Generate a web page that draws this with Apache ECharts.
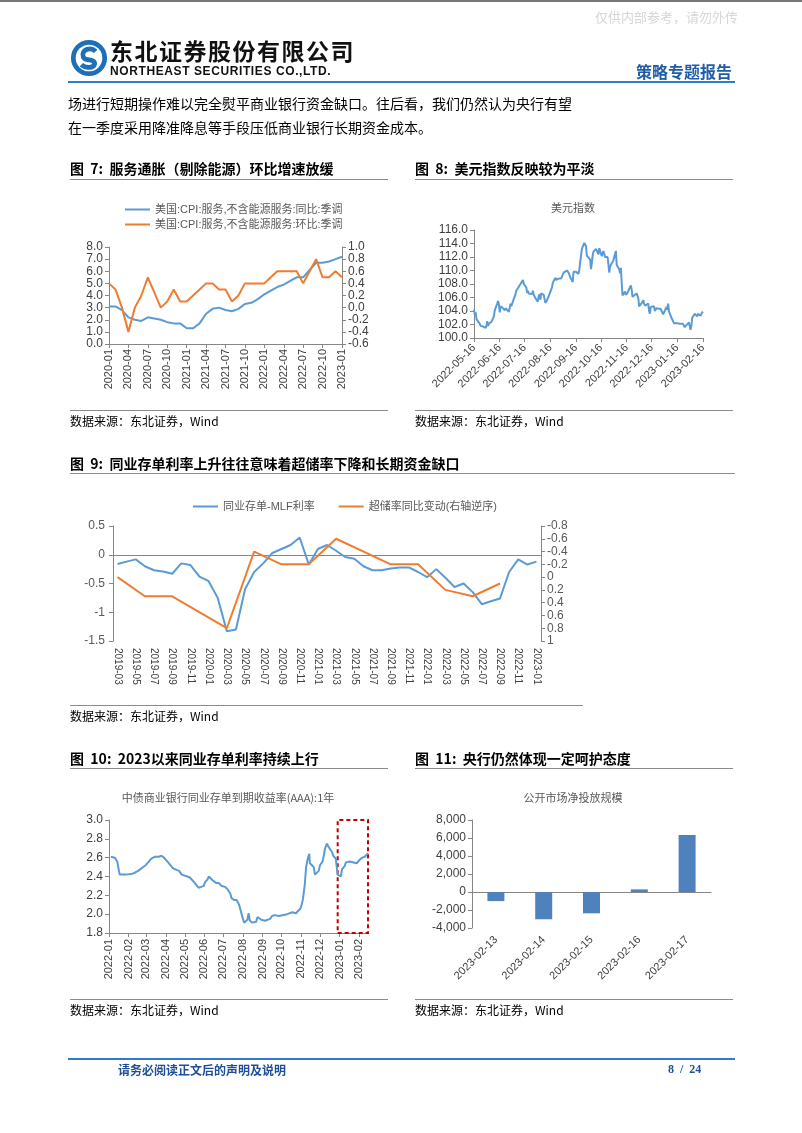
<!DOCTYPE html>
<html>
<head>
<meta charset="utf-8">
<script src="https://cdn.jsdelivr.net/npm/echarts@6/dist/echarts.min.js"></script>
<style>
body { margin: 0; background: #fff; }
#page { position: relative; width: 802px; height: 1133px; overflow: hidden; font-family: 'Noto Sans CJK SC', sans-serif; }
#main { position: absolute; left: 0; top: 0; width: 802px; height: 1133px; }
.t { position: absolute; white-space: nowrap; z-index: 2; }
.fig { font-size: 14px; line-height: 18px; font-weight: bold; color: #000; }
.src { font-size: 12px; line-height: 16px; color: #000; }
.cap { font-size: 11px; line-height: 14px; color: #595959; text-align: center; width: 300px; }
.rule { position: absolute; height: 0; border-top: 1px solid #8c8c8c; z-index: 2; }
</style>
</head>
<body>
<div id="page">
  <div id="main"></div>

  <div class="rule" style="left:0;top:0;width:802px;border-top:2px solid #777;"></div>
  <div class="t" style="left:595px;top:9px;font-size:13px;line-height:16px;color:#d6d6d6;">仅供内部参考，请勿外传</div>

  <svg class="t" style="left:70px;top:39px" width="38" height="38" viewBox="0 0 40 40">
    <circle cx="20" cy="20" r="19" fill="#1d6fb8"/>
    <circle cx="20" cy="20" r="14" fill="#fff"/>
    <path d="M27 13 C22 8, 11 11, 14 19 C16 24, 26 20, 26 26 C25 31, 16 31, 12 27" stroke="#1d6fb8" stroke-width="5" fill="none"/>
  </svg>
  <div class="t" style="left:110px;top:37px;font-size:23px;line-height:26px;font-weight:bold;letter-spacing:1.5px;color:#111;">东北证券股份有限公司</div>
  <div class="t" style="left:110px;top:65px;font-size:12px;line-height:13px;font-weight:bold;letter-spacing:0.6px;font-family:'Liberation Sans',Arial,sans-serif;color:#111;">NORTHEAST SECURITIES CO.,LTD.</div>
  <div class="t" style="left:636px;top:61px;font-size:16px;line-height:20px;font-weight:bold;color:#1f5da8;">策略专题报告</div>
  <div class="rule" style="left:68px;top:81px;width:667px;border-top:2px solid #2e7bcf;"></div>

  <div class="t" style="left:68px;top:94px;font-size:14px;line-height:18px;">场进行短期操作难以完全熨平商业银行资金缺口。往后看，我们仍然认为央行有望</div>
  <div class="t" style="left:68px;top:118px;font-size:14px;line-height:18px;">在一季度采用降准降息等手段压低商业银行长期资金成本。</div>

  <div class="t fig" style="left:70px;top:159px;">图&nbsp;&nbsp;7:&nbsp;&nbsp;服务通胀（剔除能源）环比增速放缓</div>
  <div class="rule" style="left:70px;top:179px;width:318px;"></div>
  <div class="t fig" style="left:415px;top:159px;">图&nbsp;&nbsp;8:&nbsp;&nbsp;美元指数反映较为平淡</div>
  <div class="rule" style="left:415px;top:179px;width:318px;"></div>
  <div class="t cap" style="left:423px;top:200px;">美元指数</div>
  <div class="rule" style="left:70px;top:410px;width:318px;"></div>
  <div class="t src" style="left:70px;top:413px;">数据来源：东北证券，Wind</div>
  <div class="rule" style="left:415px;top:410px;width:318px;"></div>
  <div class="t src" style="left:415px;top:413px;">数据来源：东北证券，Wind</div>

  <div class="t fig" style="left:70px;top:454px;">图&nbsp;&nbsp;9:&nbsp;&nbsp;同业存单利率上升往往意味着超储率下降和长期资金缺口</div>
  <div class="rule" style="left:70px;top:473px;width:665px;"></div>
  <div class="rule" style="left:70px;top:705px;width:513px;"></div>
  <div class="t src" style="left:70px;top:708px;">数据来源：东北证券，Wind</div>

  <div class="t fig" style="left:70px;top:749px;">图&nbsp;&nbsp;10:&nbsp;&nbsp;2023以来同业存单利率持续上行</div>
  <div class="rule" style="left:70px;top:768px;width:318px;"></div>
  <div class="t cap" style="left:78px;top:790px;">中债商业银行同业存单到期收益率(AAA):1年</div>
  <div class="t fig" style="left:415px;top:749px;">图&nbsp;&nbsp;11:&nbsp;&nbsp;央行仍然体现一定呵护态度</div>
  <div class="rule" style="left:415px;top:768px;width:318px;"></div>
  <div class="t cap" style="left:423px;top:790px;">公开市场净投放规模</div>
  <div class="rule" style="left:70px;top:999px;width:318px;"></div>
  <div class="t src" style="left:70px;top:1002px;">数据来源：东北证券，Wind</div>
  <div class="rule" style="left:415px;top:999px;width:318px;"></div>
  <div class="t src" style="left:415px;top:1002px;">数据来源：东北证券，Wind</div>

  <div class="rule" style="left:68px;top:1058px;width:667px;border-top:2px solid #2e7bcf;"></div>
  <div class="t" style="left:118px;top:1062px;font-size:12px;line-height:15px;font-weight:bold;color:#1f4e9a;">请务必阅读正文后的声明及说明</div>
  <div class="t" style="left:668px;top:1062px;font-size:12px;line-height:15px;font-weight:bold;color:#1f4e9a;font-family:'Liberation Serif',serif;">8&nbsp;&nbsp;/&nbsp;&nbsp;24</div>
</div>

<script>
// ---- 图7 美国核心服务CPI
const cpiMonths = ['2020-01','2020-02','2020-03','2020-04','2020-05','2020-06','2020-07','2020-08','2020-09','2020-10','2020-11','2020-12',
  '2021-01','2021-02','2021-03','2021-04','2021-05','2021-06','2021-07','2021-08','2021-09','2021-10','2021-11','2021-12',
  '2022-01','2022-02','2022-03','2022-04','2022-05','2022-06','2022-07','2022-08','2022-09','2022-10','2022-11','2022-12','2023-01'];
const cpiYoY = [3.1,3.1,2.8,2.2,2.0,1.9,2.2,2.1,2.0,1.8,1.7,1.7,1.3,1.3,1.7,2.5,2.9,3.0,2.8,2.7,2.9,3.3,3.4,3.7,
  4.1,4.4,4.7,4.9,5.2,5.5,5.5,6.1,6.7,6.7,6.8,7.0,7.2];
const cpiMoM = [0.4,0.3,0.0,-0.4,0.0,0.2,0.5,0.25,0.0,0.1,0.3,0.1,0.1,0.2,0.3,0.4,0.4,0.3,0.3,0.1,0.2,0.4,0.4,0.4,
  0.4,0.5,0.6,0.6,0.6,0.6,0.4,0.6,0.8,0.5,0.5,0.6,0.5];

// ---- 图8 美元指数
const dxyDates = ['2022-05-16','2022-05-17','2022-05-18','2022-05-19','2022-05-20','2022-05-23','2022-05-24','2022-05-25','2022-05-26','2022-05-27',
  '2022-05-30','2022-05-31','2022-06-01','2022-06-02','2022-06-03','2022-06-06','2022-06-07','2022-06-08','2022-06-09','2022-06-10',
  '2022-06-13','2022-06-14','2022-06-15','2022-06-16','2022-06-17','2022-06-20','2022-06-21','2022-06-22','2022-06-23','2022-06-24',
  '2022-06-27','2022-06-28','2022-06-29','2022-06-30','2022-07-01','2022-07-05','2022-07-06','2022-07-07','2022-07-08','2022-07-11',
  '2022-07-12','2022-07-13','2022-07-14','2022-07-15','2022-07-18','2022-07-19','2022-07-20','2022-07-21','2022-07-22','2022-07-25',
  '2022-07-26','2022-07-27','2022-07-28','2022-07-29','2022-08-01','2022-08-02','2022-08-03','2022-08-04','2022-08-05','2022-08-08',
  '2022-08-09','2022-08-10','2022-08-11','2022-08-12','2022-08-15','2022-08-16','2022-08-17','2022-08-18','2022-08-19','2022-08-22',
  '2022-08-23','2022-08-24','2022-08-25','2022-08-26','2022-08-29','2022-08-30','2022-08-31','2022-09-01','2022-09-02','2022-09-05',
  '2022-09-06','2022-09-07','2022-09-08','2022-09-09','2022-09-12','2022-09-13','2022-09-14','2022-09-15','2022-09-16','2022-09-19',
  '2022-09-20','2022-09-21','2022-09-22','2022-09-23','2022-09-26','2022-09-27','2022-09-28','2022-09-29','2022-09-30','2022-10-03',
  '2022-10-04','2022-10-05','2022-10-06','2022-10-07','2022-10-10','2022-10-11','2022-10-12','2022-10-13','2022-10-14','2022-10-17',
  '2022-10-18','2022-10-19','2022-10-20','2022-10-21','2022-10-24','2022-10-25','2022-10-26','2022-10-27','2022-10-28','2022-10-31',
  '2022-11-01','2022-11-02','2022-11-03','2022-11-04','2022-11-07','2022-11-08','2022-11-09','2022-11-10','2022-11-11','2022-11-14',
  '2022-11-15','2022-11-16','2022-11-17','2022-11-18','2022-11-21','2022-11-22','2022-11-23','2022-11-24','2022-11-25','2022-11-28',
  '2022-11-29','2022-11-30','2022-12-01','2022-12-02','2022-12-05','2022-12-06','2022-12-07','2022-12-08','2022-12-09','2022-12-12',
  '2022-12-13','2022-12-14','2022-12-15','2022-12-16','2022-12-19','2022-12-20','2022-12-21','2022-12-22','2022-12-23','2022-12-27',
  '2022-12-28','2022-12-29','2022-12-30','2023-01-03','2023-01-04','2023-01-05','2023-01-06','2023-01-09','2023-01-10','2023-01-11',
  '2023-01-12','2023-01-13','2023-01-16','2023-01-17','2023-01-18','2023-01-19','2023-01-20','2023-01-23','2023-01-24','2023-01-25',
  '2023-01-26','2023-01-27','2023-01-30','2023-01-31','2023-02-01','2023-02-02','2023-02-03','2023-02-06','2023-02-07','2023-02-08',
  '2023-02-09','2023-02-10','2023-02-13','2023-02-14','2023-02-15','2023-02-16'];
const dxyValues = [104.2,103.4,103.8,102.8,103.0,102.1,101.8,102.0,101.8,101.7,
  101.5,101.8,102.5,101.8,102.1,102.4,102.3,102.5,103.2,104.1,
  105.1,105.5,105.0,103.8,104.7,104.4,104.4,104.1,104.4,104.2,
  103.9,104.4,105.1,104.7,105.1,106.5,107.0,107.0,106.9,108.0,
  108.1,108.0,108.6,108.0,107.5,106.7,107.0,106.6,106.6,106.5,
  107.0,106.4,106.3,105.9,105.4,106.2,106.5,105.7,106.6,106.4,
  106.4,105.2,105.1,105.6,106.5,106.5,106.7,107.5,108.2,108.9,
  108.6,108.6,108.6,108.8,108.8,108.8,108.7,109.7,109.5,110.0,
  110.2,109.7,109.6,109.0,108.3,109.8,109.6,109.7,109.8,109.5,
  110.2,111.2,111.3,113.2,114.1,114.1,113.6,112.2,112.1,111.6,
  110.2,111.1,112.2,112.8,113.2,113.2,113.3,112.4,113.3,112.1,
  112.0,112.9,112.9,112.0,112.0,110.9,109.7,110.6,110.7,111.5,
  111.4,111.4,112.9,110.8,110.2,109.6,110.4,108.2,106.3,106.9,
  106.4,106.3,106.7,106.9,107.8,107.2,106.1,106.1,106.0,106.6,
  106.8,105.9,104.7,104.5,105.3,105.6,105.1,104.8,104.8,105.1,
  104.0,103.6,104.6,104.7,104.7,104.0,104.2,104.4,104.3,104.3,
  104.5,104.2,103.5,104.6,104.2,105.1,103.9,103.0,103.2,103.2,
  102.2,102.2,102.2,102.4,102.4,102.1,102.0,102.1,101.9,101.6,
  101.8,101.9,102.3,102.1,101.2,101.8,103.0,103.6,103.4,103.4,
  103.2,103.6,103.3,103.2,103.8,103.9];
const dxyTicks = ['2022-05-16','2022-06-16','2022-07-16','2022-08-16','2022-09-16','2022-10-16',
  '2022-11-16','2022-12-16','2023-01-16','2023-02-16'];

// ---- 图9 同业存单-MLF 与 超储率
const mlfMonths = ['2019-03','2019-04','2019-05','2019-06','2019-07','2019-08','2019-09','2019-10','2019-11','2019-12',
  '2020-01','2020-02','2020-03','2020-04','2020-05','2020-06','2020-07','2020-08','2020-09','2020-10','2020-11','2020-12',
  '2021-01','2021-02','2021-03','2021-04','2021-05','2021-06','2021-07','2021-08','2021-09','2021-10','2021-11','2021-12',
  '2022-01','2022-02','2022-03','2022-04','2022-05','2022-06','2022-07','2022-08','2022-09','2022-10','2022-11','2022-12','2023-01'];
const mlfLabels = ['2019-03','','2019-05','','2019-07','','2019-09','','2019-11','','2020-01','','2020-03','','2020-05','',
  '2020-07','','2020-09','','2020-11','','2021-01','','2021-03','','2021-05','','2021-07','','2021-09','','2021-11','',
  '2022-01','','2022-03','','2022-05','','2022-07','','2022-09','','2022-11','','2023-01'];
const mlfSpread = [-0.16,-0.12,-0.08,-0.2,-0.27,-0.29,-0.33,-0.15,-0.18,-0.38,
  -0.46,-0.75,-1.33,-1.30,-0.6,-0.3,-0.15,0.03,0.1,0.17,0.3,-0.17,
  0.1,0.17,0.07,-0.04,-0.07,-0.2,-0.27,-0.27,-0.24,-0.22,-0.22,-0.3,
  -0.39,-0.25,-0.4,-0.56,-0.5,-0.65,-0.86,-0.81,-0.76,-0.3,-0.08,-0.17,-0.12];
const excessReserve = [0,null,null,0.3,null,null,0.3,null,null,null,
  null,null,0.8,null,null,-0.4,null,null,-0.2,null,null,-0.2,
  null,null,-0.6,null,null,null,null,null,-0.2,null,null,-0.2,
  null,null,0.2,null,null,0.3,null,null,0.1,null,null,null,null];

// ---- 图10 同业存单到期收益率
const ncdDates = ['2022-01-04','2022-01-06','2022-01-10','2022-01-12','2022-01-14','2022-01-17','2022-01-18','2022-01-20','2022-01-24','2022-01-26',
  '2022-01-28','2022-02-07','2022-02-09','2022-02-11','2022-02-14','2022-02-16','2022-02-18','2022-02-22','2022-02-24','2022-02-28',
  '2022-03-02','2022-03-04','2022-03-07','2022-03-09','2022-03-11','2022-03-15','2022-03-17','2022-03-21','2022-03-23','2022-03-25',
  '2022-03-29','2022-03-31','2022-04-01','2022-04-06','2022-04-08','2022-04-12','2022-04-14','2022-04-18','2022-04-20','2022-04-22',
  '2022-04-26','2022-04-28','2022-05-05','2022-05-09','2022-05-11','2022-05-13','2022-05-17','2022-05-19','2022-05-23','2022-05-25',
  '2022-05-27','2022-05-31','2022-06-02','2022-06-06','2022-06-08','2022-06-10','2022-06-14','2022-06-16','2022-06-20','2022-06-22',
  '2022-06-24','2022-06-28','2022-06-30','2022-07-04','2022-07-06','2022-07-08','2022-07-12','2022-07-14','2022-07-18','2022-07-20',
  '2022-07-22','2022-07-26','2022-07-28','2022-08-01','2022-08-03','2022-08-05','2022-08-08','2022-08-10','2022-08-12','2022-08-16',
  '2022-08-18','2022-08-22','2022-08-24','2022-08-26','2022-08-30','2022-09-01','2022-09-05','2022-09-08','2022-09-13','2022-09-16',
  '2022-09-20','2022-09-23','2022-09-27','2022-09-30','2022-10-10','2022-10-13','2022-10-18','2022-10-20','2022-10-24','2022-10-27',
  '2022-10-31','2022-11-02','2022-11-04','2022-11-07','2022-11-09','2022-11-11','2022-11-14','2022-11-15','2022-11-17','2022-11-21',
  '2022-11-23','2022-11-25','2022-11-29','2022-12-01','2022-12-05','2022-12-07','2022-12-09','2022-12-12','2022-12-14','2022-12-16',
  '2022-12-20','2022-12-22','2022-12-26','2022-12-28','2022-12-29','2023-01-03','2023-01-05','2023-01-09','2023-01-11','2023-01-13',
  '2023-01-17','2023-01-19','2023-01-28','2023-01-31','2023-02-02','2023-02-06','2023-02-08','2023-02-10','2023-02-14','2023-02-15'];
const ncdValues = [2.61,2.60,2.60,2.58,2.56,2.45,2.42,2.43,2.42,2.41,
  2.42,2.43,2.44,2.44,2.45,2.46,2.47,2.49,2.50,2.52,
  2.53,2.55,2.57,2.59,2.60,2.61,2.59,2.61,2.60,2.62,
  2.60,2.61,2.58,2.54,2.52,2.49,2.48,2.47,2.48,2.46,
  2.42,2.41,2.40,2.39,2.38,2.36,2.33,2.32,2.28,2.27,
  2.29,2.30,2.34,2.37,2.40,2.39,2.36,2.37,2.33,2.32,
  2.33,2.30,2.31,2.29,2.29,2.26,2.22,2.17,2.15,2.14,
  2.15,2.10,2.05,1.95,1.91,1.90,1.94,2.01,1.93,1.91,
  1.90,1.92,1.97,1.96,1.94,1.94,1.93,1.95,1.95,1.98,
  1.99,2.01,1.98,1.98,2.00,2.00,2.02,2.04,2.01,2.03,
  2.06,2.10,2.16,2.32,2.50,2.57,2.64,2.54,2.52,2.50,
  2.42,2.44,2.46,2.52,2.56,2.62,2.70,2.75,2.72,2.71,
  2.66,2.62,2.59,2.57,2.42,2.40,2.48,2.51,2.55,2.57,
  2.56,2.58,2.54,2.56,2.58,2.60,2.62,2.61,2.64,2.65];
const ncdTicks = ['2022-01','2022-02','2022-03','2022-04','2022-05','2022-06','2022-07','2022-08','2022-09','2022-10',
  '2022-11','2022-12','2023-01','2023-02'];

// ---- 图11 公开市场净投放
const omoDates = ['2023-02-13','2023-02-14','2023-02-15','2023-02-16','2023-02-17'];
const omoValues = [-1010,-3030,-2370,290,6320];

function ts(s) {
  const p = s.split('-').map(Number);
  return Date.UTC(p[0], p[1] - 1, p[2] || 1);
}
function pad(n) { return n < 10 ? '0' + n : '' + n; }
function fmtDay(v) { const d = new Date(v); return d.getUTCFullYear() + '-' + pad(d.getUTCMonth() + 1) + '-' + pad(d.getUTCDate()); }
function fmtMonth(v) { const d = new Date(v); return d.getUTCFullYear() + '-' + pad(d.getUTCMonth() + 1); }

const chart = echarts.init(document.getElementById('main'), null, { renderer: 'canvas' });

const font = "'Liberation Sans', Arial, 'Noto Sans CJK SC', sans-serif";
const grey = '#868686';
const lineStyle = { lineStyle: { color: grey, width: 1 } };
const tickStyle = { length: 4, lineStyle: { color: grey } };
function label(extra) {
  return Object.assign({ color: '#404040', fontSize: 12, fontFamily: font }, extra || {});
}
const blue = '#5B9BD5';
const orange = '#ED7D31';

const option = {
  animation: false,
  textStyle: { fontFamily: font },
  grid: [
    { left: 109, top: 247, width: 233, height: 97 },
    { left: 474, top: 230, width: 229, height: 108 },
    { left: 113, top: 526, width: 428, height: 115 },
    { left: 109, top: 820, width: 259, height: 113 },
    { left: 472, top: 820, width: 239, height: 108 }
  ],
  legend: [
    {
      data: ['美国:CPI:服务,不含能源服务:同比:季调', '美国:CPI:服务,不含能源服务:环比:季调'],
      orient: 'vertical', left: 120, top: 199, itemGap: 4,
      icon: 'rect', itemWidth: 25, itemHeight: 2,
      textStyle: { fontSize: 11, color: '#595959' }
    },
    {
      data: ['同业存单-MLF利率', '超储率同比变动(右轴逆序)'],
      orient: 'horizontal', left: 188, top: 496, itemGap: 24,
      icon: 'rect', itemWidth: 25, itemHeight: 2,
      textStyle: { fontSize: 11, color: '#595959' }
    }
  ],
  xAxis: [
    {
      gridIndex: 0, type: 'category', data: cpiMonths, boundaryGap: false,
      axisLine: Object.assign({ onZero: false }, lineStyle),
      axisTick: Object.assign({ interval: 2 }, tickStyle),
      axisLabel: label({ rotate: 90, interval: 2, margin: 5, fontSize: 11 })
    },
    {
      gridIndex: 1, type: 'value', min: ts('2022-05-16'), max: ts('2023-02-16'),
      axisLine: Object.assign({ onZero: false }, lineStyle),
      axisTick: Object.assign({ customValues: dxyTicks.map(ts) }, tickStyle),
      axisLabel: label({ customValues: dxyTicks.map(ts), formatter: fmtDay, rotate: 45, margin: 8, fontSize: 11 }),
      splitLine: { show: false }
    },
    {
      gridIndex: 2, type: 'category', data: mlfLabels, position: 'bottom', boundaryGap: true,
      axisLine: { show: false, onZero: false }, axisTick: { show: false },
      axisLabel: label({ rotate: -90, interval: 0, margin: 7, fontSize: 10, color: '#404040' })
    },
    {
      gridIndex: 2, type: 'category', data: mlfMonths, position: 'top', boundaryGap: true,
      axisLine: Object.assign({ onZero: true }, lineStyle),
      axisTick: Object.assign({ interval: 1 }, tickStyle),
      axisLabel: { show: false }
    },
    {
      gridIndex: 3, type: 'value', min: ts('2022-01-01'), max: ts('2023-02-15'),
      axisLine: Object.assign({ onZero: false }, lineStyle),
      axisTick: Object.assign({ customValues: ncdTicks.map(ts) }, tickStyle),
      axisLabel: label({ customValues: ncdTicks.map(ts), formatter: fmtMonth, rotate: 90, margin: 6, fontSize: 11 }),
      splitLine: { show: false }
    },
    {
      gridIndex: 4, type: 'category', data: omoDates, position: 'bottom',
      axisLine: Object.assign({ onZero: true }, lineStyle),
      axisTick: { length: 5, lineStyle: { color: grey } },
      axisLabel: { show: false }
    },
    {
      gridIndex: 4, type: 'category', data: omoDates, position: 'bottom',
      axisLine: { show: false, onZero: false }, axisTick: { show: false },
      axisLabel: label({ rotate: 45, interval: 0, margin: 10, fontSize: 11 })
    }
  ],
  yAxis: [
    {
      gridIndex: 0, type: 'value', min: 0, max: 8, interval: 1,
      axisLine: Object.assign({ show: true }, lineStyle), axisTick: Object.assign({ show: true }, tickStyle),
      axisLabel: label({ formatter: v => v.toFixed(1), margin: 6 }), splitLine: { show: false }
    },
    {
      gridIndex: 0, type: 'value', position: 'right', min: -0.6, max: 1.0, interval: 0.2,
      axisLine: Object.assign({ show: true }, lineStyle), axisTick: Object.assign({ show: true }, tickStyle),
      axisLabel: label({ formatter: v => v.toFixed(1), margin: 6 }), splitLine: { show: false }
    },
    {
      gridIndex: 1, type: 'value', min: 100, max: 116, interval: 2,
      axisLine: Object.assign({ show: true }, lineStyle), axisTick: Object.assign({ show: true }, tickStyle),
      axisLabel: label({ formatter: v => v.toFixed(1), margin: 6 }), splitLine: { show: false }
    },
    {
      gridIndex: 2, type: 'value', min: -1.5, max: 0.5, interval: 0.5,
      axisLine: Object.assign({ show: true }, lineStyle), axisTick: Object.assign({ show: true }, tickStyle),
      axisLabel: label({ color: '#595959', margin: 8 }), splitLine: { show: false }
    },
    {
      gridIndex: 2, type: 'value', position: 'right', inverse: true, min: -0.8, max: 1, interval: 0.2,
      axisLine: Object.assign({ show: true }, lineStyle), axisTick: Object.assign({ show: true }, tickStyle),
      axisLabel: label({ color: '#595959', formatter: v => String(+v.toFixed(1)), margin: 6 }), splitLine: { show: false }
    },
    {
      gridIndex: 3, type: 'value', min: 1.8, max: 3.0, interval: 0.2,
      axisLine: Object.assign({ show: true }, lineStyle), axisTick: Object.assign({ show: true }, tickStyle),
      axisLabel: label({ formatter: v => v.toFixed(1), margin: 6 }), splitLine: { show: false }
    },
    {
      gridIndex: 4, type: 'value', min: -4000, max: 8000, interval: 2000,
      axisLine: Object.assign({ show: true }, lineStyle), axisTick: Object.assign({ show: true }, tickStyle),
      axisLabel: label({ formatter: v => v.toLocaleString('en-US'), margin: 6 }), splitLine: { show: false }
    }
  ],
  series: [
    {
      name: '美国:CPI:服务,不含能源服务:同比:季调', type: 'line', xAxisIndex: 0, yAxisIndex: 0,
      data: cpiYoY, showSymbol: false, symbol: 'none', color: blue, lineStyle: { width: 2 }
    },
    {
      name: '美国:CPI:服务,不含能源服务:环比:季调', type: 'line', xAxisIndex: 0, yAxisIndex: 1,
      data: cpiMoM, showSymbol: false, symbol: 'none', color: orange, lineStyle: { width: 2 }
    },
    {
      name: '美元指数', type: 'line', xAxisIndex: 1, yAxisIndex: 2,
      data: dxyDates.map((d, i) => [ts(d), dxyValues[i]]),
      showSymbol: false, symbol: 'none', color: blue, lineStyle: { width: 2 }
    },
    {
      name: '同业存单-MLF利率', type: 'line', xAxisIndex: 2, yAxisIndex: 3,
      data: mlfSpread, showSymbol: false, symbol: 'none', color: blue, lineStyle: { width: 2 }
    },
    {
      name: '超储率同比变动(右轴逆序)', type: 'line', xAxisIndex: 2, yAxisIndex: 4,
      data: excessReserve, connectNulls: true, showSymbol: false, symbol: 'none', color: orange, lineStyle: { width: 2 }
    },
    {
      name: '同业存单到期收益率', type: 'line', xAxisIndex: 4, yAxisIndex: 5,
      data: ncdDates.map((d, i) => [ts(d), ncdValues[i]]),
      showSymbol: false, symbol: 'none', color: blue, lineStyle: { width: 2 },
      markArea: {
        silent: true,
        label: { show: false },
        itemStyle: { color: 'rgba(0,0,0,0)', borderColor: '#C00000', borderWidth: 2, borderType: [4, 3] },
        data: [[{ xAxis: ts('2022-12-29'), yAxis: 1.8 }, { xAxis: ts('2023-02-15'), yAxis: 3.0 }]]
      }
    },
    {
      name: '公开市场净投放规模', type: 'bar', xAxisIndex: 6, yAxisIndex: 6,
      data: omoValues, barWidth: 17, itemStyle: { color: '#4F81BD' }
    }
  ]
};

chart.setOption(option);
</script>
</body>
</html>
